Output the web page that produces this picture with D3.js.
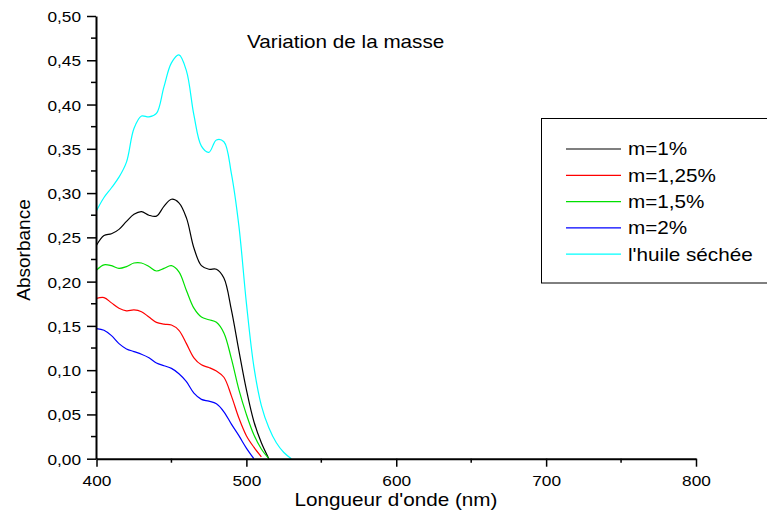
<!DOCTYPE html>
<html>
<head>
<meta charset="utf-8">
<script src="https://cdn.jsdelivr.net/npm/d3@7"></script>
<style>
  body { margin: 0; background: #fff; }
  text { font-family: Arial, "Liberation Sans", sans-serif; fill: #000; }
</style>
</head>
<body>
<div id="chart"></div>
<script>
// longueurs d'onde (nm), pas de 5 nm
const wavelengths = [400, 405, 410, 415, 420, 425, 430, 435, 440, 445, 450, 455, 460, 465,
  470, 475, 480, 485, 490, 495, 500, 505, 510, 515, 520, 525, 530];

const m1 = [0.241, 0.252, 0.254, 0.259, 0.268, 0.276, 0.279, 0.275, 0.274, 0.285, 0.293, 0.289, 0.272, 0.238,
  0.218, 0.214, 0.214, 0.204, 0.168, 0.122, 0.078, 0.042, 0.018, 0.000, null, null, null];
const m125 = [0.181, 0.182, 0.176, 0.170, 0.167, 0.168, 0.166, 0.160, 0.154, 0.152, 0.151, 0.145, 0.130, 0.114,
  0.106, 0.103, 0.099, 0.092, 0.071, 0.046, 0.026, 0.013, 0.002, null, null, null, null];
const m15 = [0.213, 0.219, 0.218, 0.215, 0.217, 0.221, 0.221, 0.217, 0.212, 0.215, 0.218, 0.211, 0.190, 0.170,
  0.160, 0.157, 0.154, 0.142, 0.113, 0.078, 0.050, 0.027, 0.011, 0.000, null, null, null];
const m2 = [0.147, 0.145, 0.139, 0.130, 0.124, 0.121, 0.118, 0.114, 0.108, 0.105, 0.102, 0.096, 0.087, 0.074,
  0.067, 0.065, 0.062, 0.053, 0.039, 0.026, 0.012, 0.000, null, null, null, null, null];
const huile = [0.280, 0.295, 0.306, 0.318, 0.335, 0.373, 0.387, 0.386, 0.390, 0.420, 0.447, 0.456, 0.438, 0.388,
  0.353, 0.346, 0.360, 0.358, 0.322, 0.263, 0.176, 0.104, 0.060, 0.035, 0.018, 0.007, 0.000];

const seriesNames = ['m=1%', 'm=1,25%', 'm=1,5%', 'm=2%', "l'huile séchée"];
const seriesValues = [m1, m125, m15, m2, huile];
const seriesColors = ['#000000', '#ff0000', '#00e000', '#0000ff', '#00ffff'];

const xTicks = [400, 500, 600, 700, 800];
const yTicks = [0, 0.05, 0.10, 0.15, 0.20, 0.25, 0.30, 0.35, 0.40, 0.45, 0.50];

const W = 767, H = 529;
const sx = 1.15; // texte légèrement étiré horizontalement

const svg = d3.select('#chart').append('svg')
  .attr('width', W)
  .attr('height', H);

const x = d3.scaleLinear().domain([400, 800]).range([96.5, 696]);
const y = d3.scaleLinear().domain([0, 0.5]).range([458.7, 16]);

const fmt = d3.format('.2f');

// courbes
const line = d3.line()
  .defined(d => d[1] !== null)
  .x(d => x(d[0]))
  .y(d => y(d[1]))
  .curve(d3.curveCatmullRom.alpha(0.5));

seriesValues.forEach((vals, i) => {
  const pts = wavelengths.map((w, j) => [w, vals[j]]);
  svg.append('path')
    .datum(pts)
    .attr('fill', 'none')
    .attr('stroke', seriesColors[i])
    .attr('stroke-width', 1.2)
    .attr('d', line);
});

// axe X
const xAxis = svg.append('g')
  .attr('transform', `translate(0,${y(0)})`)
  .call(d3.axisBottom(x).tickValues(xTicks).tickSize(8).tickSizeOuter(0).tickFormat(d3.format('d')));
xAxis.append('g').selectAll('line')
  .data([450, 550, 650, 750])
  .join('line')
  .attr('x1', d => x(d)).attr('x2', d => x(d))
  .attr('y1', 0).attr('y2', 4)
  .attr('stroke', '#000').attr('stroke-width', 1.5);

// axe Y
const yAxis = svg.append('g')
  .attr('transform', `translate(${x(400) - 0.5},0)`)
  .call(d3.axisLeft(y).tickValues(yTicks).tickSize(9).tickSizeOuter(0)
    .tickFormat(d => fmt(d).replace('.', ',')));
yAxis.append('g').selectAll('line')
  .data(d3.range(0.025, 0.5, 0.05))
  .join('line')
  .attr('x1', 0).attr('x2', -5)
  .attr('y1', d => y(d)).attr('y2', d => y(d))
  .attr('stroke', '#000').attr('stroke-width', 1.5);

[xAxis, yAxis].forEach(a => {
  a.select('.domain').attr('stroke-width', 2);
  a.selectAll('.tick line').attr('stroke-width', 1.5);
  a.selectAll('.tick text').style('font-size', '15px').attr('fill', '#000');
});

xAxis.selectAll('.tick text')
  .attr('y', null).attr('dy', null)
  .attr('text-anchor', 'middle')
  .attr('dominant-baseline', 'central')
  .attr('transform', `translate(0,22) scale(${sx},1)`);

yAxis.selectAll('.tick text')
  .attr('x', null).attr('dy', null)
  .attr('text-anchor', 'end')
  .attr('dominant-baseline', 'central')
  .attr('transform', `translate(-15,0) scale(${sx},1)`);

// titres
svg.append('text')
  .attr('transform', `translate(247,42) scale(${sx},1)`)
  .attr('dominant-baseline', 'central')
  .style('font-size', '18px')
  .text('Variation de la masse');

svg.append('text')
  .attr('transform', `translate(396,500) scale(${sx},1)`)
  .attr('text-anchor', 'middle')
  .attr('dominant-baseline', 'central')
  .style('font-size', '18px')
  .text("Longueur d'onde (nm)");

svg.append('text')
  .attr('transform', 'translate(23,250) rotate(-90)')
  .attr('text-anchor', 'middle')
  .attr('dominant-baseline', 'central')
  .style('font-size', '19px')
  .text('Absorbance');

// légende
const legend = svg.append('g');
legend.append('rect')
  .attr('x', 541.5).attr('y', 118.5)
  .attr('width', 240).attr('height', 164.5)
  .attr('fill', 'none')
  .attr('stroke', '#000')
  .attr('stroke-width', 1);

seriesNames.forEach((name, i) => {
  const ly = 149 + i * 26.3;
  legend.append('line')
    .attr('x1', 566).attr('x2', 621)
    .attr('y1', ly).attr('y2', ly)
    .attr('stroke', seriesColors[i])
    .attr('stroke-width', 1.2);
  legend.append('text')
    .attr('transform', `translate(628,${ly}) scale(${sx},1)`)
    .attr('dominant-baseline', 'central')
    .style('font-size', '18px')
    .text(name);
});
</script>
</body>
</html>
